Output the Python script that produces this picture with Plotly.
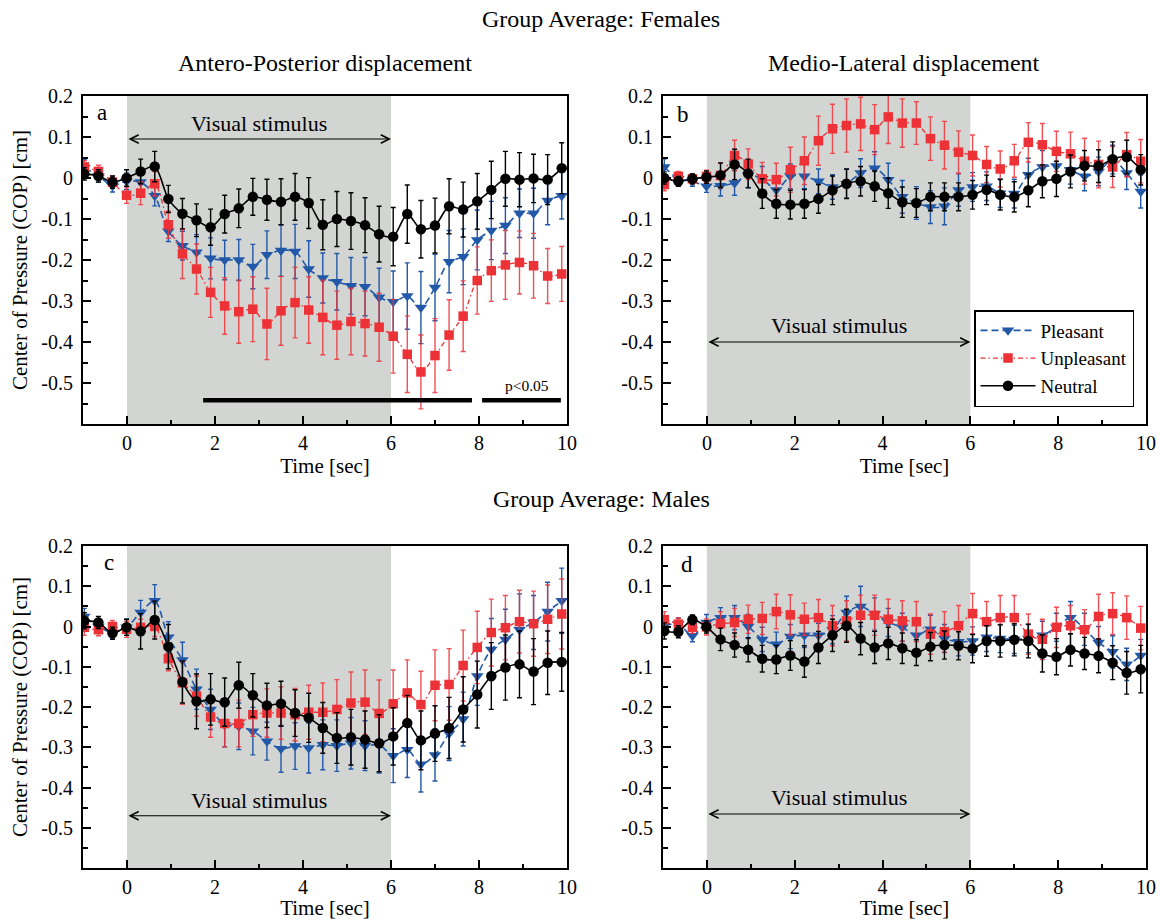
import plotly.graph_objects as go

# ---------------- data ----------------
t = [-0.97, -0.65, -0.33, -0.01, 0.31, 0.63, 0.94, 1.26, 1.58, 1.9, 2.22, 2.54, 2.86, 3.18,
     3.5, 3.82, 4.13, 4.45, 4.77, 5.09, 5.41, 5.73, 6.05, 6.37, 6.68, 7.0, 7.32, 7.64, 7.96,
     8.28, 8.6, 8.92, 9.24, 9.56, 9.88]

# (a) Antero-Posterior, Females
a_ple = [0.025, 0.005, -0.019, -0.008, -0.01, -0.043, -0.13, -0.165, -0.181, -0.196, -0.2, -0.2,
         -0.216, -0.187, -0.177, -0.179, -0.222, -0.244, -0.253, -0.263, -0.265, -0.291, -0.302,
         -0.288, -0.316, -0.267, -0.204, -0.192, -0.151, -0.128, -0.116, -0.086, -0.086, -0.055, -0.043]
a_ple_err = [0.02, 0.015, 0.015, 0.02, 0.02, 0.025, 0.025, 0.035, 0.043, 0.05, 0.048, 0.05, 0.054,
             0.058, 0.063, 0.066, 0.069, 0.061, 0.069, 0.069, 0.071, 0.071, 0.075, 0.081, 0.088,
             0.081, 0.076, 0.068, 0.073, 0.071, 0.068, 0.059, 0.061, 0.059, 0.057]
a_unp = [0.027, 0.016, -0.01, -0.042, -0.037, -0.014, -0.114, -0.185, -0.222, -0.279, -0.312, -0.326,
         -0.32, -0.356, -0.324, -0.304, -0.322, -0.34, -0.359, -0.35, -0.355, -0.364, -0.386, -0.43,
         -0.473, -0.433, -0.383, -0.337, -0.25, -0.226, -0.212, -0.206, -0.214, -0.239, -0.234]
a_unp_err = [0.015, 0.015, 0.015, 0.02, 0.028, 0.03, 0.033, 0.06, 0.061, 0.061, 0.069, 0.077, 0.079,
             0.087, 0.084, 0.086, 0.081, 0.091, 0.083, 0.081, 0.079, 0.083, 0.09, 0.093, 0.09, 0.09,
             0.086, 0.086, 0.082, 0.075, 0.084, 0.077, 0.079, 0.067, 0.067]
a_neu = [0.01, 0.005, -0.01, 0.0, 0.016, 0.028, -0.051, -0.087, -0.103, -0.12, -0.088, -0.074, -0.046,
         -0.053, -0.058, -0.046, -0.061, -0.114, -0.1, -0.105, -0.115, -0.137, -0.143, -0.088, -0.125,
         -0.116, -0.069, -0.077, -0.057, -0.029, -0.002, -0.004, -0.001, -0.004, 0.024]
a_neu_err = [0.015, 0.015, 0.015, 0.02, 0.03, 0.037, 0.033, 0.037, 0.04, 0.044, 0.046, 0.047, 0.045,
             0.05, 0.056, 0.057, 0.062, 0.061, 0.067, 0.069, 0.067, 0.068, 0.071, 0.071, 0.07, 0.067,
             0.067, 0.067, 0.068, 0.07, 0.067, 0.066, 0.059, 0.061, 0.062]

# (b) Medio-Lateral, Females
b_ple = [0.027, -0.002, -0.008, -0.02, -0.019, -0.012, 0.007, -0.002, -0.029, 0.004, 0.004, -0.008,
         -0.022, -0.014, 0.012, 0.024, -0.004, -0.046, -0.061, -0.071, -0.069, -0.029, -0.022, -0.02,
         -0.037, -0.038, 0.008, 0.027, 0.029, 0.02, 0.004, 0.016, 0.045, 0.012, -0.033]
b_ple_err = [0.02, 0.012, 0.012, 0.015, 0.025, 0.03, 0.03, 0.03, 0.03, 0.03, 0.03, 0.03, 0.03, 0.035,
             0.035, 0.04, 0.04, 0.04, 0.04, 0.04, 0.045, 0.04, 0.035, 0.035, 0.035, 0.035, 0.04, 0.04,
             0.035, 0.035, 0.035, 0.035, 0.035, 0.04, 0.04]
b_unp = [-0.016, 0.004, -0.002, 0.004, 0.006, 0.055, 0.034, -0.002, -0.004, 0.02, 0.042, 0.091, 0.12,
         0.128, 0.132, 0.118, 0.149, 0.134, 0.134, 0.096, 0.08, 0.063, 0.055, 0.033, 0.022, 0.042,
         0.087, 0.081, 0.065, 0.059, 0.041, 0.033, 0.027, 0.057, 0.041]
b_unp_err = [0.015, 0.012, 0.012, 0.015, 0.03, 0.037, 0.037, 0.04, 0.04, 0.055, 0.058, 0.06, 0.06,
             0.065, 0.065, 0.061, 0.065, 0.059, 0.052, 0.053, 0.058, 0.052, 0.05, 0.044, 0.044, 0.04,
             0.048, 0.052, 0.049, 0.053, 0.056, 0.057, 0.05, 0.054, 0.053]
b_neu = [0.0, -0.008, -0.002, 0.002, 0.007, 0.033, 0.011, -0.038, -0.063, -0.065, -0.063, -0.051,
         -0.03, -0.014, -0.008, -0.02, -0.037, -0.059, -0.061, -0.046, -0.046, -0.046, -0.041, -0.029,
         -0.041, -0.046, -0.03, -0.008, -0.002, 0.016, 0.03, 0.029, 0.046, 0.051, 0.02]
b_neu_err = [0.015, 0.012, 0.012, 0.015, 0.03, 0.037, 0.035, 0.036, 0.035, 0.035, 0.035, 0.035, 0.035,
             0.036, 0.036, 0.037, 0.037, 0.037, 0.035, 0.034, 0.034, 0.034, 0.035, 0.036, 0.037, 0.037,
             0.04, 0.04, 0.043, 0.04, 0.037, 0.04, 0.042, 0.041, 0.037]

# (c) Antero-Posterior, Males
c_ple = [0.025, 0.0, -0.015, -0.002, 0.035, 0.064, -0.027, -0.083, -0.156, -0.206, -0.244, -0.248,
         -0.26, -0.285, -0.304, -0.297, -0.302, -0.294, -0.296, -0.29, -0.296, -0.294, -0.321, -0.306,
         -0.342, -0.319, -0.266, -0.23, -0.123, -0.057, -0.032, -0.008, 0.01, 0.037, 0.064]
c_ple_err = [0.02, 0.015, 0.015, 0.02, 0.03, 0.04, 0.039, 0.044, 0.05, 0.05, 0.055, 0.058, 0.059,
             0.047, 0.058, 0.058, 0.062, 0.062, 0.064, 0.064, 0.062, 0.07, 0.067, 0.069, 0.069, 0.065,
             0.067, 0.067, 0.073, 0.077, 0.075, 0.089, 0.067, 0.073, 0.081]
c_unp = [-0.002, -0.008, 0.0, -0.007, -0.002, 0.0, -0.08, -0.14, -0.173, -0.225, -0.241, -0.241,
         -0.219, -0.215, -0.215, -0.219, -0.213, -0.213, -0.206, -0.19, -0.188, -0.216, -0.192, -0.165,
         -0.194, -0.146, -0.144, -0.097, -0.052, -0.015, -0.003, 0.012, 0.007, 0.018, 0.031]
c_unp_err = [0.02, 0.015, 0.015, 0.02, 0.02, 0.025, 0.03, 0.053, 0.05, 0.05, 0.058, 0.058, 0.054,
             0.06, 0.065, 0.065, 0.067, 0.073, 0.074, 0.077, 0.08, 0.083, 0.084, 0.082, 0.083, 0.088,
             0.089, 0.088, 0.09, 0.083, 0.08, 0.078, 0.081, 0.085, 0.087]
c_neu = [0.014, 0.01, -0.017, -0.002, -0.012, 0.016, -0.05, -0.138, -0.186, -0.181, -0.188, -0.146,
         -0.171, -0.196, -0.192, -0.215, -0.227, -0.252, -0.277, -0.275, -0.281, -0.29, -0.273, -0.24,
         -0.283, -0.266, -0.252, -0.206, -0.169, -0.123, -0.102, -0.094, -0.112, -0.09, -0.088]
c_neu_err = [0.02, 0.015, 0.015, 0.02, 0.044, 0.047, 0.055, 0.052, 0.068, 0.064, 0.06, 0.057, 0.054,
             0.055, 0.056, 0.058, 0.061, 0.063, 0.063, 0.069, 0.071, 0.071, 0.071, 0.069, 0.073, 0.069,
             0.076, 0.081, 0.083, 0.083, 0.081, 0.083, 0.082, 0.079, 0.073]

# (d) Medio-Lateral, Males
d_ple = [0.002, 0.006, -0.023, 0.01, 0.022, 0.022, 0.0, -0.032, -0.044, -0.025, -0.022, -0.022,
         -0.008, 0.035, 0.05, 0.031, 0.01, -0.002, -0.022, -0.007, -0.03, -0.038, -0.036, -0.027,
         -0.03, -0.032, -0.03, -0.022, -0.002, 0.022, -0.007, -0.04, -0.063, -0.094, -0.072]
d_ple_err = [0.02, 0.015, 0.015, 0.02, 0.025, 0.03, 0.03, 0.03, 0.03, 0.03, 0.03, 0.03, 0.035, 0.04,
             0.05, 0.04, 0.035, 0.035, 0.035, 0.035, 0.035, 0.035, 0.035, 0.035, 0.035, 0.035, 0.035,
             0.035, 0.035, 0.04, 0.04, 0.04, 0.04, 0.04, 0.04]
d_unp = [0.017, 0.006, -0.002, -0.001, 0.007, 0.01, 0.018, 0.02, 0.037, 0.029, 0.018, 0.022, 0.002,
         0.014, 0.028, 0.028, 0.018, 0.014, 0.012, -0.019, -0.013, 0.002, 0.032, 0.012, 0.022, 0.022,
         -0.019, -0.032, -0.002, 0.002, -0.008, 0.025, 0.032, 0.022, -0.004]
d_unp_err = [0.02, 0.015, 0.015, 0.02, 0.03, 0.035, 0.035, 0.04, 0.043, 0.05, 0.04, 0.045, 0.05, 0.05,
             0.05, 0.05, 0.05, 0.05, 0.05, 0.05, 0.05, 0.05, 0.05, 0.05, 0.055, 0.055, 0.05, 0.05, 0.05,
             0.05, 0.05, 0.055, 0.052, 0.054, 0.054]
d_neu = [-0.011, -0.013, 0.017, -0.001, -0.032, -0.046, -0.058, -0.08, -0.082, -0.072, -0.087, -0.052,
         -0.022, 0.002, -0.03, -0.052, -0.042, -0.054, -0.065, -0.05, -0.046, -0.048, -0.055, -0.036,
         -0.036, -0.033, -0.036, -0.067, -0.075, -0.058, -0.067, -0.073, -0.09, -0.115, -0.106]
d_neu_err = [0.02, 0.015, 0.012, 0.015, 0.028, 0.03, 0.03, 0.033, 0.035, 0.037, 0.039, 0.04, 0.04,
             0.041, 0.04, 0.04, 0.04, 0.038, 0.032, 0.035, 0.035, 0.035, 0.035, 0.038, 0.04, 0.04,
             0.042, 0.046, 0.045, 0.04, 0.04, 0.042, 0.042, 0.053, 0.059]

series_names = ["Pleasant", "Unpleasant", "Neutral"]
x_tickvals = [0, 2, 4, 6, 8, 10]
x_ticktext = ["0", "2", "4", "6", "8", "10"]
x_minor = [1, 3, 5, 7, 9]
y_tickvals = [0.2, 0.1, 0.0, -0.1, -0.2, -0.3, -0.4, -0.5]
y_ticktext = ["0.2", "0.1", "0", "-0.1", "-0.2", "-0.3", "-0.4", "-0.5"]
y_minor = [0.15, 0.05, -0.05, -0.15, -0.25, -0.35, -0.45, -0.55]
stim_start, stim_end = 0, 6
stim_label = "Visual stimulus"
sig_start = [1.73, 8.07]
sig_end = [7.84, 9.86]
sig_label = "p<0.05"

# ---------------- style / layout geometry ----------------
FONT = "Liberation Serif, Times New Roman, serif"
BLUE = "#2158a8"
RED = "#ec3237"
GRAY = "#d3d5d2"
OFF = 0                      # body margin removed by post_script below
W, H = 1160 - OFF, 920 - OFF
ML, MR, MT, MB = 83 - OFF, 14, 96 - OFF, 52
PW, PH = W - ML - MR, H - MT - MB


def fx(p):                   # screen pixel x -> paper x
    return (p - OFF - ML) / PW


def fy(p):                   # screen pixel y -> paper y
    return 1 - (p - OFF - MT) / PH


dom_left = [0, fx(567)]
dom_right = [fx(663), 1]
dom_top = [fy(424), 1]
dom_bot = [0, fy(546)]

panels = [
    dict(x="x", y="y", xd=dom_left, yd=dom_top, data=(a_ple, a_ple_err, a_unp, a_unp_err, a_neu, a_neu_err),
         letter="a", lpos=(-0.57, 0.16), stim_y=0.095, stim_ty=0.134, ytitle=True, legend=False),
    dict(x="x2", y="y2", xd=dom_right, yd=dom_top, data=(b_ple, b_ple_err, b_unp, b_unp_err, b_neu, b_neu_err),
         letter="b", lpos=(-0.55, 0.156), stim_y=-0.40, stim_ty=-0.36, ytitle=False, legend=True),
    dict(x="x3", y="y3", xd=dom_left, yd=dom_bot, data=(c_ple, c_ple_err, c_unp, c_unp_err, c_neu, c_neu_err),
         letter="c", lpos=(-0.42, 0.16), stim_y=-0.47, stim_ty=-0.432, ytitle=True, legend=False),
    dict(x="x4", y="y4", xd=dom_right, yd=dom_bot, data=(d_ple, d_ple_err, d_unp, d_unp_err, d_neu, d_neu_err),
         letter="d", lpos=(-0.45, 0.153), stim_y=-0.466, stim_ty=-0.425, ytitle=False, legend=False),
]

fig = go.Figure()
shapes = []
annotations = []
layout_axes = {}

for p in panels:
    ple, ple_e, unp, unp_e, neu, neu_e = p["data"]
    fig.add_trace(go.Scatter(
        x=t, y=ple, xaxis=p["x"], yaxis=p["y"], name=series_names[0], legendgroup="ple",
        showlegend=p["legend"], mode="lines+markers",
        line=dict(color=BLUE, width=1.6, dash="7px,4px", shape="spline", smoothing=0.8),
        marker=dict(symbol="triangle-down", size=11, color=BLUE),
        error_y=dict(type="data", array=ple_e, color=BLUE, thickness=1.4, width=2.5)))
    fig.add_trace(go.Scatter(
        x=t, y=unp, xaxis=p["x"], yaxis=p["y"], name=series_names[1], legendgroup="unp",
        showlegend=p["legend"], mode="lines+markers",
        line=dict(color=RED, width=1.3, dash="5px,3px,1.5px,3px", shape="spline", smoothing=0.8),
        marker=dict(symbol="square", size=9.5, color=RED),
        error_y=dict(type="data", array=unp_e, color="rgba(236,50,55,0.85)", thickness=1.4, width=2.5)))
    fig.add_trace(go.Scatter(
        x=t, y=neu, xaxis=p["x"], yaxis=p["y"], name=series_names[2], legendgroup="neu",
        showlegend=p["legend"], mode="lines+markers",
        line=dict(color="black", width=1.6, shape="spline", smoothing=0.8),
        marker=dict(symbol="circle", size=10.5, color="black"),
        error_y=dict(type="data", array=neu_e, color="black", thickness=1.4, width=2.5)))

    xname = "xaxis" if p["x"] == "x" else "xaxis" + p["x"][1:]
    yname = "yaxis" if p["y"] == "y" else "yaxis" + p["y"][1:]
    layout_axes[xname] = dict(
        domain=p["xd"], anchor=p["y"], range=[-1, 10], tickmode="array",
        tickvals=x_tickvals, ticktext=x_ticktext, ticks="inside", ticklen=8, tickwidth=1.5,
        tickcolor="black", minor=dict(tickvals=x_minor, ticks="inside", ticklen=4.5, tickwidth=1.5,
                                      tickcolor="black"),
        showline=True, linecolor="black", linewidth=2, mirror=True, showgrid=False, zeroline=False,
        tickfont=dict(size=20, family=FONT, color="black"),
        title=dict(text="Time [sec]", font=dict(size=21, family=FONT, color="black"), standoff=3))
    layout_axes[yname] = dict(
        domain=p["yd"], anchor=p["x"], range=[-0.6, 0.2], tickmode="array",
        tickvals=y_tickvals, ticktext=y_ticktext, ticks="inside", ticklen=8, tickwidth=1.5,
        tickcolor="black", minor=dict(tickvals=y_minor, ticks="inside", ticklen=4.5, tickwidth=1.5,
                                      tickcolor="black"),
        showline=True, linecolor="black", linewidth=2, mirror=True, showgrid=False, zeroline=False,
        tickfont=dict(size=20, family=FONT, color="black"), ticklabelstandoff=4,
        title=dict(text="Center of Pressure (COP) [cm]" if p["ytitle"] else "",
                   font=dict(size=21, family=FONT, color="black"), standoff=8))

    # stimulus shading
    shapes.append(dict(type="rect", xref=p["x"], yref=p["y"], x0=stim_start, x1=stim_end,
                       y0=-0.6, y1=0.2, fillcolor=GRAY, line=dict(width=0), layer="below"))
    # stimulus arrow
    annotations.append(dict(x=stim_end, y=p["stim_y"], ax=stim_start, ay=p["stim_y"],
                            xref=p["x"], yref=p["y"], axref=p["x"], ayref=p["y"], text="",
                            showarrow=True, arrowhead=5, startarrowhead=5, arrowside="end+start",
                            arrowsize=1.5, startarrowsize=1.5, arrowwidth=1.1, arrowcolor="black",
                            standoff=0, startstandoff=0))
    annotations.append(dict(x=(stim_start + stim_end) / 2, y=p["stim_ty"], xref=p["x"], yref=p["y"],
                            text=stim_label, showarrow=False, xanchor="center", yanchor="middle",
                            font=dict(size=22, family=FONT, color="black")))
    annotations.append(dict(x=p["lpos"][0], y=p["lpos"][1], xref=p["x"], yref=p["y"],
                            text=p["letter"], showarrow=False, xanchor="center", yanchor="middle",
                            font=dict(size=23, family=FONT, color="black")))

# significance bars (panel a)
for s0, s1 in zip(sig_start, sig_end):
    shapes.append(dict(type="line", xref="x", yref="y", x0=s0, x1=s1, y0=-0.542, y1=-0.542,
                       line=dict(color="black", width=4.5)))
annotations.append(dict(x=9.09, y=-0.505, xref="x", yref="y", text=sig_label, showarrow=False,
                        xanchor="center", yanchor="middle",
                        font=dict(size=15.5, family=FONT, color="black")))

# titles
for txt, cx, cy in [("Group Average: Females", 601, 19), ("Group Average: Males", 601, 499),
                    ("Antero-Posterior displacement", 325, 63),
                    ("Medio-Lateral displacement", 904.5, 63)]:
    annotations.append(dict(x=fx(cx), y=fy(cy), xref="paper", yref="paper", text=txt,
                            showarrow=False, xanchor="center", yanchor="middle",
                            font=dict(size=24, family=FONT, color="black")))

fig.update_layout(
    width=W, height=H, margin=dict(l=ML, r=MR, t=MT, b=MB, autoexpand=False),
    paper_bgcolor="white", plot_bgcolor="white",
    font=dict(family=FONT, size=20, color="black"),
    shapes=shapes, annotations=annotations,
    legend=dict(x=fx(974), y=fy(310), xanchor="left", yanchor="top", bgcolor="white",
                bordercolor="black", borderwidth=1.5, font=dict(size=19, family=FONT, color="black"),
                itemwidth=55, tracegroupgap=0),
    **layout_axes)

fig.write_html("out.html", config={"displayModeBar": False},
               post_script="document.body.style.margin='0';document.body.style.overflow='hidden';")
